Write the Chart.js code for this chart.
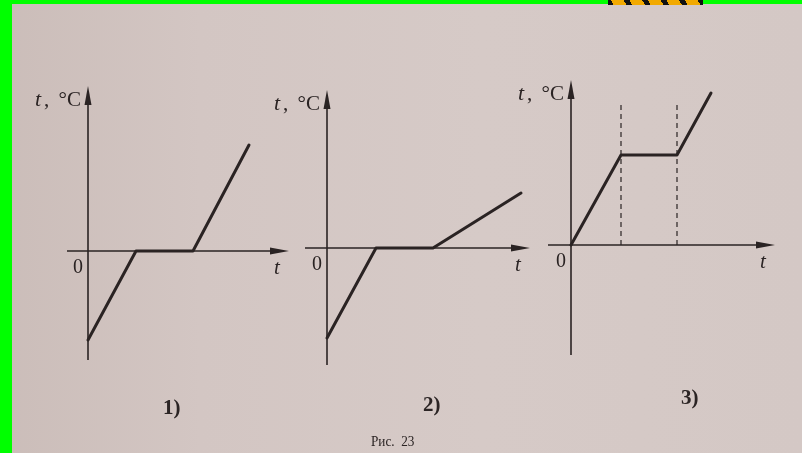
<!DOCTYPE html>
<html>
<head>
<meta charset="utf-8">
<script src="https://cdn.jsdelivr.net/npm/chart.js@4.4.0/dist/chart.umd.min.js"></script>
<style>
  body { margin: 0; background: #d4c7c4; }
  #hoja {
    position: relative; width: 802px; height: 453px; overflow: hidden;
    background: linear-gradient(90deg, #cbbdb9 0%, #d3c6c3 25%, #d6cac7 60%, #d4c8c5 100%);
  }
  canvas.grafico { position: absolute; left: 0; top: 0; }
  .borde { position: absolute; background: #00ff00; }
  #cinta {
    position: absolute; left: 608px; top: 0; width: 95px; height: 5px;
    background: repeating-linear-gradient(60deg, #111 0 5px, #f2a900 5px 16px);
  }
  .rotulo { position: absolute; font-family: 'Liberation Serif', 'DejaVu Serif', serif; color: #2b2424; }
</style>
</head>
<body>
<div id="hoja">
  <canvas id="grafico1" class="grafico" width="802" height="453"></canvas>
  <canvas id="grafico2" class="grafico" width="802" height="453"></canvas>
  <canvas id="grafico3" class="grafico" width="802" height="453"></canvas>
  <div class="borde" style="left:0;top:0;width:12px;height:453px"></div>
  <div class="borde" style="left:0;top:0;width:802px;height:4px"></div>
  <div id="cinta"></div>
  <div class="rotulo" style="left:163px;top:395px;font-size:21px;font-weight:bold">1)</div>
  <div class="rotulo" style="left:423px;top:392px;font-size:21px;font-weight:bold">2)</div>
  <div class="rotulo" style="left:681px;top:385px;font-size:21px;font-weight:bold">3)</div>
  <div class="rotulo" style="left:371px;top:433px;font-size:15px;transform:scaleX(0.88);transform-origin:left">Рис.&nbsp; 23</div>
</div>
<script>
// Gráfico 1: enfriamiento, cambio de fase y calentamiento
const tiempo1 = [0, 4.8, 10.5, 16.1];
const temp1 = [-8.9, 0, 0, 10.6];

// Gráfico 2
const tiempo2 = [0, 4.9, 10.6, 19.4];
const temp2 = [-9.0, 0, 0, 5.5];

// Gráfico 3
const tiempo3 = [0, 5.0, 10.6, 14.0];
const temp3 = [0, 9.0, 9.0, 15.2];
const guias3 = [5.0, 10.6];   // líneas discontinuas
const altoGuia3 = 14.2;

// Rangos de los ejes (en unidades de cada gráfico)
const rangosX = [[-2.1, 20.1], [-2.2, 20.3], [-2.3, 20.4]];
const rangosY = [[-10.9, 16.5], [-11.7, 15.8], [-11.0, 16.5]];

// Márgenes de cada lienzo para ubicar el área del gráfico
const margenes = [
  { left: 67, right: 513, top: 86, bottom: 93 },
  { left: 305, right: 272, top: 90, bottom: 88 },
  { left: 548, right: 27, top: 80, bottom: 98 }
];

const TINTA = '#2a2323';
const SERIF = "'Liberation Serif', 'DejaVu Serif', serif";

// Dibuja los ejes con flechas y sus rótulos
const ejesPlugin = {
  id: 'ejes',
  beforeDatasetsDraw(chart) {
    const { ctx, chartArea } = chart;
    const x0 = chart.scales.x.getPixelForValue(0);
    const y0 = chart.scales.y.getPixelForValue(0);
    ctx.save();
    ctx.strokeStyle = TINTA;
    ctx.fillStyle = TINTA;
    ctx.lineWidth = 1.6;

    // eje vertical
    ctx.beginPath();
    ctx.moveTo(x0, chartArea.bottom);
    ctx.lineTo(x0, chartArea.top + 12);
    ctx.stroke();
    ctx.beginPath();
    ctx.moveTo(x0, chartArea.top);
    ctx.lineTo(x0 - 3.5, chartArea.top + 19);
    ctx.lineTo(x0 + 3.5, chartArea.top + 19);
    ctx.closePath();
    ctx.fill();

    // eje horizontal
    ctx.beginPath();
    ctx.moveTo(chartArea.left, y0);
    ctx.lineTo(chartArea.right - 12, y0);
    ctx.stroke();
    ctx.beginPath();
    ctx.moveTo(chartArea.right, y0);
    ctx.lineTo(chartArea.right - 19, y0 - 3.5);
    ctx.lineTo(chartArea.right - 19, y0 + 3.5);
    ctx.closePath();
    ctx.fill();

    // rótulos
    ctx.textBaseline = 'alphabetic';
    ctx.textAlign = 'center';
    ctx.font = '20px ' + SERIF;
    ctx.fillText('0', x0 - 10, y0 + 22);
    ctx.font = 'italic 21px ' + SERIF;
    ctx.fillText('t', chartArea.right - 12, y0 + 23);

    // "t, °C" junto a la flecha vertical
    const base = chartArea.top + 20;
    ctx.textAlign = 'left';
    ctx.font = 'italic 22px ' + SERIF;
    ctx.fillText('t', x0 - 53, base);
    ctx.font = '21px ' + SERIF;
    ctx.fillText(',', x0 - 44, base);
    ctx.textAlign = 'right';
    ctx.fillText('°C', x0 - 7, base);
    ctx.restore();
  }
};

function puntos(xs, ys) {
  return xs.map((x, i) => ({ x: x, y: ys[i] }));
}

function crearGrafico(id, indice, datasets) {
  const ctx = document.getElementById(id);
  return new Chart(ctx, {
    type: 'line',
    data: { datasets: datasets },
    options: {
      responsive: false,
      animation: false,
      layout: { padding: margenes[indice] },
      plugins: { legend: { display: false }, tooltip: { enabled: false } },
      scales: {
        x: { type: 'linear', display: false, min: rangosX[indice][0], max: rangosX[indice][1] },
        y: { type: 'linear', display: false, min: rangosY[indice][0], max: rangosY[indice][1] }
      }
    },
    plugins: [ejesPlugin]
  });
}

function serieCurva(xs, ys) {
  return {
    data: puntos(xs, ys),
    borderColor: TINTA,
    borderWidth: 3,
    pointRadius: 0,
    tension: 0,
    borderJoinStyle: 'round',
    borderCapStyle: 'round',
    fill: false
  };
}

function serieGuia(x) {
  return {
    data: [{ x: x, y: 0 }, { x: x, y: altoGuia3 }],
    borderColor: TINTA,
    borderWidth: 1.2,
    borderDash: [5, 4],
    pointRadius: 0,
    fill: false
  };
}

crearGrafico('grafico1', 0, [serieCurva(tiempo1, temp1)]);
crearGrafico('grafico2', 1, [serieCurva(tiempo2, temp2)]);
crearGrafico('grafico3', 2, [serieCurva(tiempo3, temp3)].concat(guias3.map(serieGuia)));
</script>
</body>
</html>
